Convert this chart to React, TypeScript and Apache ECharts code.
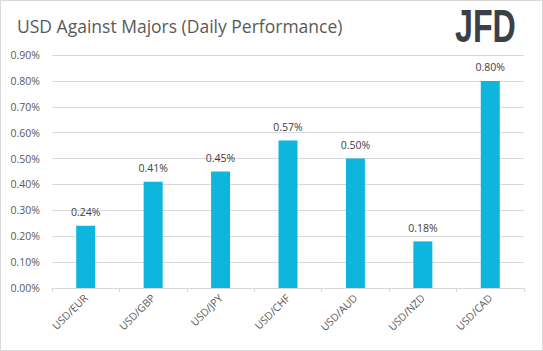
import React, { useEffect, useRef } from "react";
import * as echarts from "echarts";

const categories = ["USD/EUR", "USD/GBP", "USD/JPY", "USD/CHF", "USD/AUD", "USD/NZD", "USD/CAD"];
const values = [0.24, 0.41, 0.45, 0.57, 0.5, 0.18, 0.8];
const titleText = "USD Against Majors (Daily Performance)";
const logoText = "JFD";

export default function App() {
  const ref = useRef<HTMLDivElement>(null);
  useEffect(() => {
    document.body.style.margin = "0";
    const chart = echarts.init(ref.current!, null, { renderer: "svg" });
    const font = "'Open Sans', sans-serif";
    chart.setOption({
      animation: false,
      backgroundColor: "#ffffff",
      textStyle: { fontFamily: font },
      title: {
        text: titleText,
        left: 12,
        top: 12,
        textStyle: { fontFamily: font, fontSize: 17.5, fontWeight: "normal", color: "#595959" },
      },
      graphic: [
        {
          type: "rect",
          shape: { x: 0.5, y: 0.5, width: 542, height: 350 },
          style: { fill: "none", stroke: "#d9d9d9", lineWidth: 1 },
          silent: true,
        },
        {
          type: "text",
          x: 455,
          y: 3,
          scaleX: 0.7,
          style: {
            text: logoText,
            x: 0,
            y: 0,
            fontFamily: "'Liberation Sans', Arial, sans-serif",
            fontWeight: "bold",
            fontSize: 46,
            fill: "#3b4048",
          },
        },
      ],
      grid: { left: 52, right: 19, top: 55, bottom: 63, containLabel: false },
      xAxis: {
        type: "category",
        data: categories,
        axisLine: { lineStyle: { color: "#d9d9d9" } },
        axisTick: { show: true, length: 4, lineStyle: { color: "#d9d9d9" } },
        axisLabel: { rotate: 45, color: "#595959", fontSize: 10.5, fontFamily: font, margin: 8 },
      },
      yAxis: {
        type: "value",
        min: 0,
        max: 0.9,
        interval: 0.1,
        axisLine: { show: false },
        axisTick: { show: false },
        splitLine: { lineStyle: { color: "#d9d9d9" } },
        axisLabel: {
          color: "#595959",
          fontSize: 10.5,
          fontFamily: font,
          margin: 12,
          formatter: (v: number) => v.toFixed(2) + "%",
        },
      },
      series: [
        {
          type: "bar",
          data: values,
          barWidth: 19,
          itemStyle: { color: "#0eb6dd" },
          label: {
            show: true,
            position: "top",
            distance: 8,
            color: "#404040",
            fontSize: 10.5,
            fontFamily: font,
            formatter: (p: any) => p.value.toFixed(2) + "%",
          },
        },
      ],
    });
    return () => chart.dispose();
  }, []);
  return <div ref={ref} style={{ width: 543, height: 351, position: "absolute", left: 0, top: 0 }} />;
}
